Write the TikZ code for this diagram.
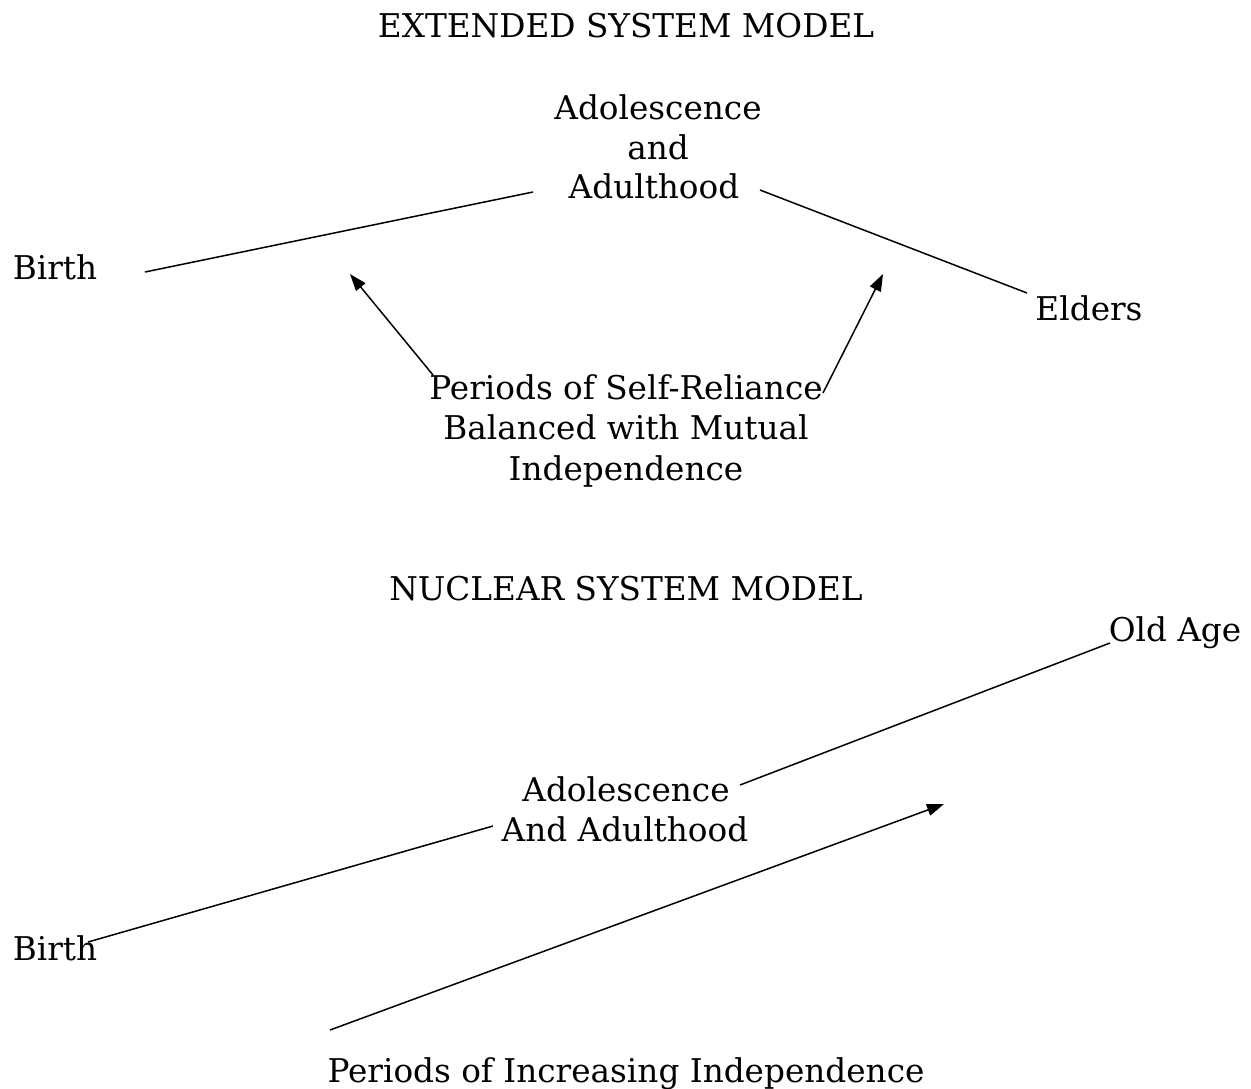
\documentclass[tikz,border=0pt]{standalone}
\usepackage{fontspec}
\setmainfont{DejaVu Serif}
\usetikzlibrary{arrows.meta}
\begin{document}
\begin{tikzpicture}[x=1pt,y=-1pt,
  lbl/.style={anchor=base,inner sep=0pt,font=\fontsize{32.7}{40}\selectfont},
  conn/.style={line width=1.5pt,black},
  arr/.style={conn,-{Triangle[length=17pt,width=12pt]}}]
\useasboundingbox (0,0) rectangle (1251,1088);
% ---- Extended system model ----
\node[lbl] (t1) at (626,37) {EXTENDED SYSTEM MODEL};
\node[lbl] (ad1) at (658,119) {Adolescence};
\node[lbl] (and1) at (658,159) {and};
\node[lbl] (adu1) at (654,198) {Adulthood};
\node[lbl] (birth1) at (55,279) {Birth};
\node[lbl] (elders) at (1089,320) {Elders};
\node[lbl] (p1) at (626,399) {Periods of Self-Reliance};
\node[lbl] (p2) at (626,439) {Balanced with Mutual};
\node[lbl] (p3) at (626,480) {Independence};
\coordinate (e1a) at (145,272);
\coordinate (e1b) at (533,192);
\coordinate (e2a) at (760,190);
\coordinate (e2b) at (1027,293);
\coordinate (a1s) at (433,375);
\coordinate (a1e) at (350,274);
\coordinate (a2s) at (823,393);
\coordinate (a2e) at (883,274);
\draw[conn] (e1a) -- (e1b);
\draw[conn] (e2a) -- (e2b);
\draw[arr] (a1s) -- (a1e);
\draw[arr] (a2s) -- (a2e);
% ---- Nuclear system model ----
\node[lbl] (t2) at (626,600) {NUCLEAR SYSTEM MODEL};
\node[lbl] (old) at (1175,641) {Old Age};
\node[lbl] (ad2) at (626,801) {Adolescence};
\node[lbl] (adu2) at (625,841) {And Adulthood};
\node[lbl] (birth2) at (55,960) {Birth};
\node[lbl] (pinc) at (626,1082) {Periods of Increasing Independence};
\coordinate (n1a) at (1110,643);
\coordinate (n1b) at (740,785);
\coordinate (n2a) at (493,826);
\coordinate (n2b) at (88,942);
\coordinate (n3s) at (330,1030);
\coordinate (n3e) at (944,804);
\draw[conn] (n1a) -- (n1b);
\draw[conn] (n2a) -- (n2b);
\draw[arr] (n3s) -- (n3e);
\end{tikzpicture}
\end{document}
